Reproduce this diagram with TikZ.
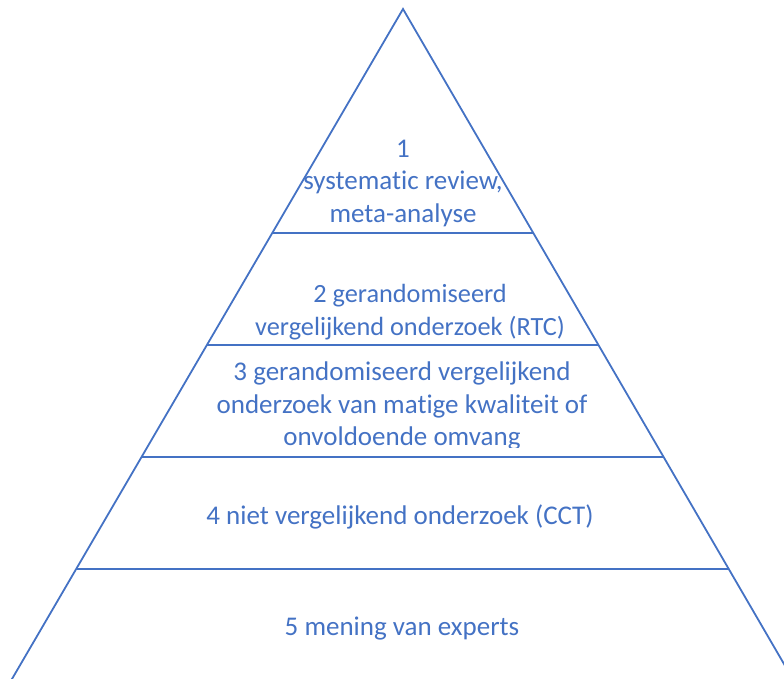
\documentclass[tikz,border=0pt]{standalone}
\usepackage{fontspec}
\setmainfont{Carlito}[Ligatures=NoCommon]
\definecolor{pyrblue}{HTML}{4472C4}
\tikzset{
  level/.style={text=pyrblue, font=\fontsize{27}{32.5}\selectfont, align=center, inner sep=0pt},
  edge/.style={draw=pyrblue, line width=1.8pt}
}
\begin{document}
\begin{tikzpicture}[x=1pt,y=-1pt]
\useasboundingbox (0,0) rectangle (784,679);
\clip (0,0) rectangle (784,679);
\coordinate (top) at (403,9);
\coordinate (bl) at ({403-0.5836*720},729);
\coordinate (br) at ({403+0.5817*720},729);
\draw[edge] (bl) -- (top) -- (br); % the two sides
\foreach \y in {233,345,457,569} % edit here for the band lines
\draw[edge] ({403-0.5836*(\y-9)},\y) -- ({403+0.5817*(\y-9)},\y);
\node[level] (lvl1) at (403,183) {1\\systematic review,\\meta-analyse};
\node[level, font=\fontsize{26.3}{32.5}\selectfont] (lvl2) at (410,312) {2 gerandomiseerd\\vergelijkend onderzoek (RTC)};
\begin{scope}
\clip (0,0) rectangle (784,447); % bottom line is cut off
\node[level] (lvl3) at (402,406) {3 gerandomiseerd vergelijkend\\onderzoek van matige kwaliteit of\\onvoldoende omvang};
\end{scope}
\node[level] (lvl4) at (400,517) {4 niet vergelijkend onderzoek (CCT)};
\node[level] (lvl5) at (402,629) {5 mening van experts};
\end{tikzpicture}
\end{document}
